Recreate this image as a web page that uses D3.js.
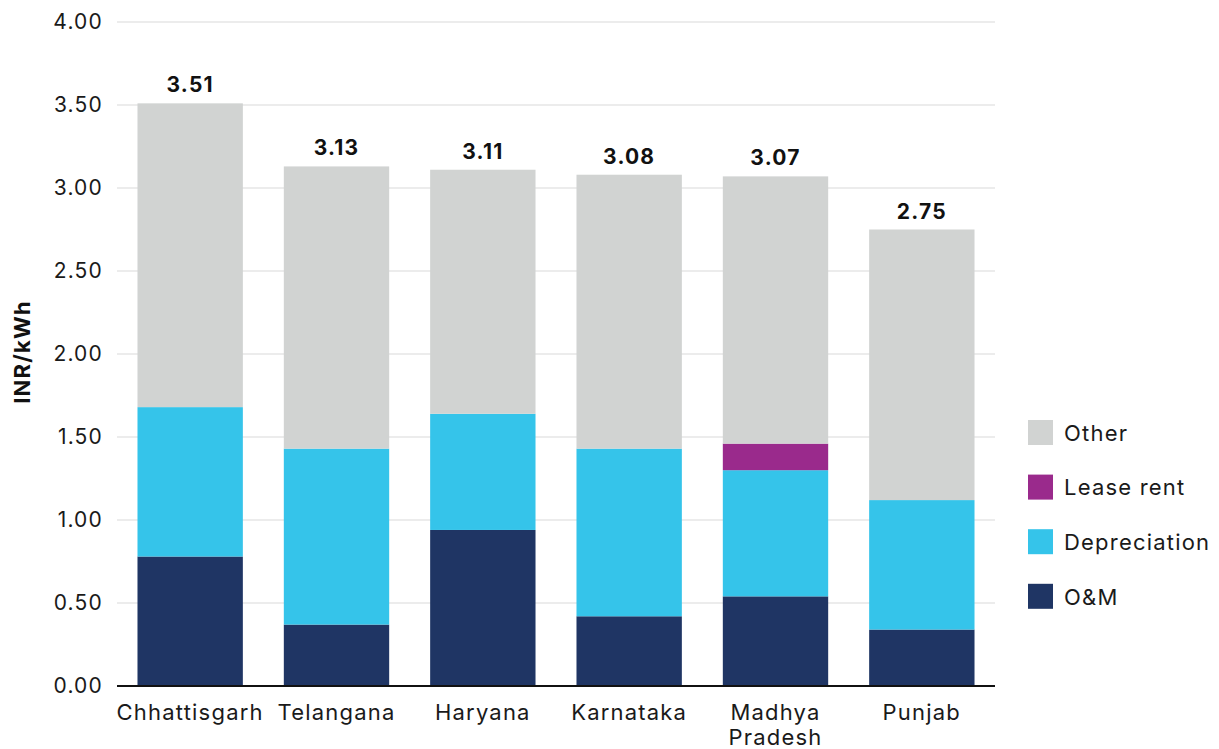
<!DOCTYPE html>
<html><head><meta charset="utf-8">
<script src="https://cdn.jsdelivr.net/npm/d3@7"></script>
<style>body{margin:0;background:#fff}svg{display:block}text{font-family:Inter,"Open Sans",sans-serif;letter-spacing:1.2px}</style>
</head><body><svg id="c" width="1219" height="749"></svg>
<script>
const categories = ["Chhattisgarh","Telangana","Haryana","Karnataka","Madhya Pradesh","Punjab"];
const om = [0.78,0.37,0.94,0.42,0.54,0.34];
const depreciation = [0.90,1.06,0.70,1.01,0.76,0.78];
const leaseRent = [0,0,0,0,0.16,0];
const totals = [3.51,3.13,3.11,3.08,3.07,2.75];
const other = totals.map((t,i)=>+(t-om[i]-depreciation[i]-leaseRent[i]).toFixed(2));
const seriesNames = ["O&M","Depreciation","Lease rent","Other"];
const colors = ["#1f3564","#35c4ea","#9a2a8c","#d1d3d2"];
const yTicks = [0,0.5,1,1.5,2,2.5,3,3.5,4];

const rows = categories.map((c,i)=>({cat:c,"O&M":om[i],"Depreciation":depreciation[i],"Lease rent":leaseRent[i],"Other":other[i]}));
const stack = d3.stack().keys(seriesNames)(rows);

const svg = d3.select("#c");
const x = d3.scaleBand().domain(categories).range([117,995]).paddingInner(0.28).paddingOuter(0.14);
const y = d3.scaleLinear().domain([0,4]).range([686,22]);

svg.append("g").selectAll("line").data(yTicks.slice(1)).join("line")
  .attr("x1",117).attr("x2",995).attr("y1",d=>y(d)).attr("y2",d=>y(d))
  .attr("stroke","#d9d9d9").attr("stroke-width",1.2);

svg.append("g").selectAll("text").data(yTicks).join("text")
  .attr("x",103).attr("y",d=>y(d)).attr("dy","0.35em").attr("text-anchor","end")
  .attr("font-size",21).attr("letter-spacing","2px").attr("fill","#1a1a1a").text(d=>d.toFixed(2));

svg.append("g").selectAll("g").data(stack).join("g")
  .attr("fill",(d,i)=>colors[i])
  .selectAll("rect").data(d=>d).join("rect")
  .attr("x",d=>x(d.data.cat)).attr("width",x.bandwidth())
  .attr("y",d=>y(d[1])).attr("height",d=>y(d[0])-y(d[1]));

svg.append("line").attr("x1",117).attr("x2",995).attr("y1",y(0)).attr("y2",y(0))
  .attr("stroke","#111").attr("stroke-width",2);

svg.append("g").selectAll("text").data(categories).join("text")
  .attr("x",d=>x(d)+x.bandwidth()/2).attr("y",(d,i)=>y(totals[i])-11)
  .attr("text-anchor","middle").attr("font-size",21).attr("letter-spacing","1px").attr("font-weight","bold").attr("fill","#111")
  .text((d,i)=>totals[i].toFixed(2));

const xl = svg.append("g").selectAll("text").data(categories).join("text")
  .attr("x",d=>x(d)+x.bandwidth()/2).attr("y",720)
  .attr("text-anchor","middle").attr("font-size",22).attr("fill","#1a1a1a");
xl.each(function(d){
  const parts = d==="Madhya Pradesh" ? ["Madhya","Pradesh"] : [d];
  const t = d3.select(this);
  parts.forEach((p,j)=>t.append("tspan").attr("x",x(d)+x.bandwidth()/2).attr("dy",j?25:0).text(p));
});

svg.append("text").attr("transform","translate(30,352) rotate(-90)").attr("text-anchor","middle")
  .attr("font-size",22).attr("letter-spacing","1.5px").attr("font-weight","bold").attr("fill","#111").text("INR/kWh");

const legendOrder = ["Other","Lease rent","Depreciation","O&M"];
const lg = svg.append("g").selectAll("g").data(legendOrder).join("g")
  .attr("transform",(d,i)=>`translate(1028,${420+i*54.6})`);
lg.append("rect").attr("width",25).attr("height",25).attr("fill",d=>colors[seriesNames.indexOf(d)]);
lg.append("text").attr("x",36).attr("y",13).attr("dy","0.35em").attr("font-size",22).attr("fill","#1a1a1a").text(d=>d);
</script></body></html>
